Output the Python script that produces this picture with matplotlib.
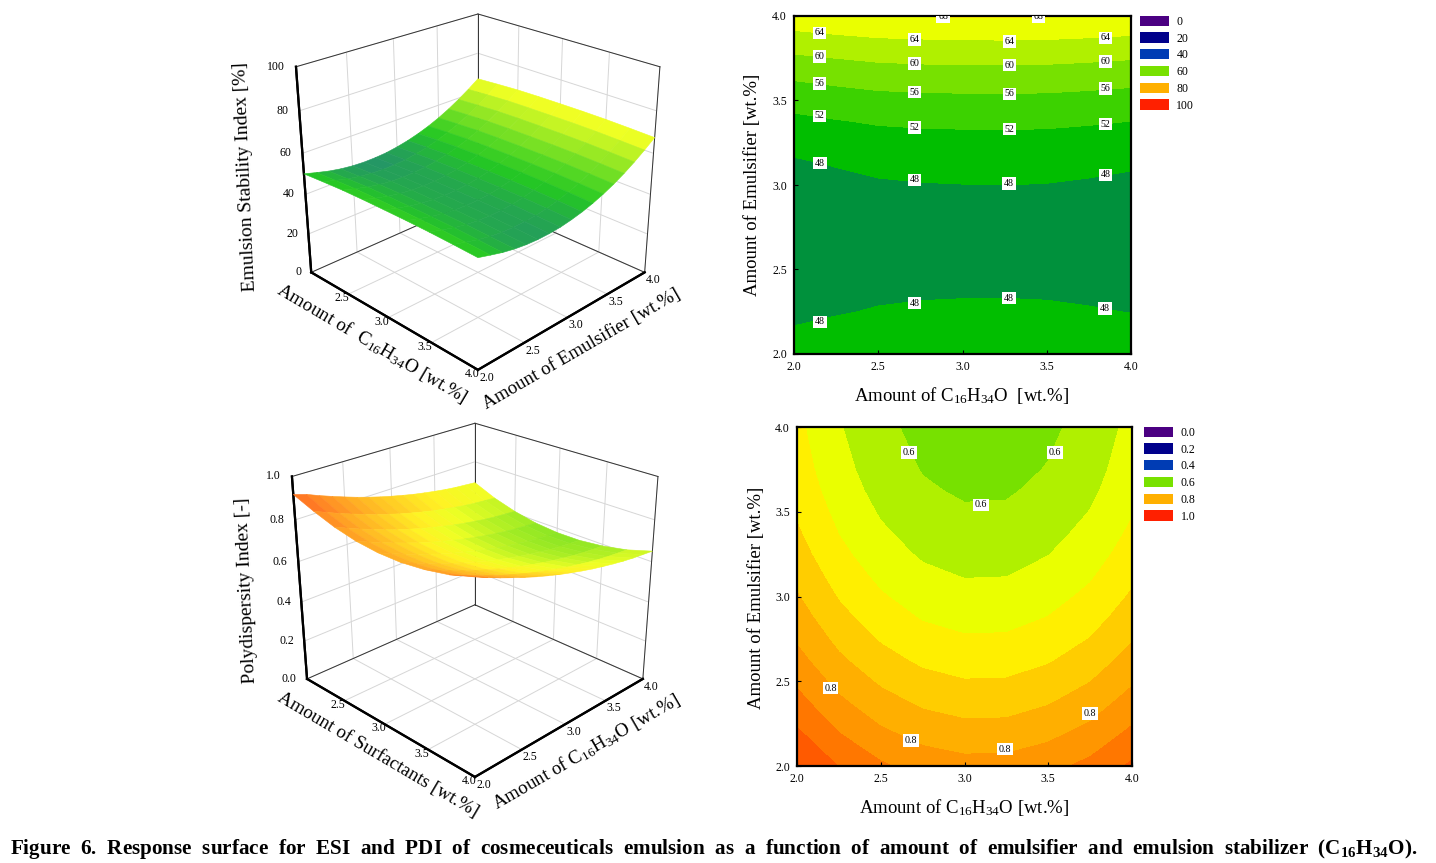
import numpy as np
import matplotlib
matplotlib.use("Agg")
import matplotlib.pyplot as plt
from matplotlib.colors import LinearSegmentedColormap, Normalize, to_rgb
from matplotlib.patches import Patch
from matplotlib.transforms import ScaledTranslation

plt.rcParams['font.family'] = ['Liberation Serif', 'DejaVu Serif']
plt.rcParams['mathtext.fontset'] = 'custom'
plt.rcParams['mathtext.rm'] = 'Liberation Serif'
plt.rcParams['mathtext.bf'] = 'Liberation Serif:bold'
plt.rcParams['mathtext.it'] = 'Liberation Serif:italic'

x_c16 = [2.0, 2.25, 2.5, 2.75, 3.0, 3.25, 3.5, 3.75, 4.0]
y_emul = [2.0, 2.125, 2.25, 2.375, 2.5, 2.625, 2.75, 2.875, 3.0,
          3.125, 3.25, 3.375, 3.5, 3.625, 3.75, 3.875, 4.0]

esi = [
    [50.1, 50.8, 51.4, 51.65, 51.75, 51.8, 51.7, 51.4, 51.0],
    [48.5, 49.2, 49.8, 50.0, 50.1, 50.2, 50.1, 49.8, 49.4],
    [47.0, 47.7, 48.3, 48.55, 48.65, 48.7, 48.6, 48.3, 47.9],
    [45.9, 46.6, 47.2, 47.5, 47.6, 47.6, 47.5, 47.2, 46.8],
    [45.2, 45.9, 46.5, 46.8, 46.9, 46.9, 46.8, 46.5, 46.1],
    [44.9, 45.6, 46.2, 46.5, 46.6, 46.6, 46.5, 46.2, 45.8],
    [45.0, 45.7, 46.3, 46.55, 46.65, 46.7, 46.6, 46.3, 45.9],
    [45.4, 46.1, 46.7, 47.0, 47.1, 47.1, 47.0, 46.7, 46.3],
    [46.3, 47.0, 47.6, 47.85, 47.95, 48.0, 47.9, 47.6, 47.2],
    [47.5, 48.2, 48.8, 49.0, 49.1, 49.2, 49.1, 48.8, 48.4],
    [49.1, 49.8, 50.4, 50.65, 50.75, 50.8, 50.7, 50.4, 50.0],
    [51.05, 51.75, 52.35, 52.6, 52.7, 52.75, 52.65, 52.35, 51.95],
    [53.4, 54.1, 54.7, 54.95, 55.05, 55.1, 55.0, 54.7, 54.3],
    [56.15, 56.85, 57.45, 57.7, 57.8, 57.85, 57.75, 57.45, 57.05],
    [59.3, 60.0, 60.6, 60.85, 60.95, 61.0, 60.9, 60.6, 60.2],
    [62.8, 63.5, 64.1, 64.3, 64.4, 64.5, 64.4, 64.1, 63.7],
    [66.6, 67.3, 67.9, 68.15, 68.25, 68.3, 68.2, 67.9, 67.5],
]
pdi = [
    [.918, .879, .846, .824, .814, .815, .828, .851, .887],
    [.900, .854, .821, .799, .789, .790, .803, .826, .862],
    [.876, .830, .797, .775, .765, .766, .779, .802, .838],
    [.854, .808, .775, .753, .743, .744, .757, .780, .816],
    [.833, .787, .754, .732, .722, .723, .736, .759, .795],
    [.813, .767, .734, .712, .702, .703, .716, .739, .775],
    [.795, .749, .716, .694, .684, .685, .698, .721, .757],
    [.778, .732, .699, .677, .667, .668, .681, .704, .740],
    [.763, .717, .684, .662, .652, .653, .666, .689, .725],
    [.749, .703, .670, .648, .638, .639, .652, .675, .711],
    [.736, .690, .657, .635, .625, .626, .639, .662, .698],
    [.725, .679, .646, .624, .614, .615, .628, .651, .687],
    [.715, .669, .636, .614, .604, .605, .618, .641, .677],
    [.706, .660, .627, .605, .595, .596, .609, .632, .668],
    [.699, .653, .620, .598, .588, .589, .602, .625, .661],
    [.694, .648, .615, .593, .583, .584, .597, .620, .656],
    [.689, .643, .610, .588, .578, .579, .592, .615, .651],
]
esi_levels = [44, 48, 52, 56, 60, 64, 68, 72]
pdi_levels = [.56, .60, .64, .68, .72, .76, .80, .84, .88, .92]

esi_label_x = [2.15, 2.15, 2.15, 2.15, 2.155, 2.155,
               2.715, 2.715, 2.715, 2.715, 2.715, 2.715,
               3.28, 3.28, 3.28, 3.28, 3.275, 3.275,
               3.85, 3.85, 3.85, 3.85, 3.85, 3.845, 2.885, 3.45]
esi_label_y = [3.90, 3.76, 3.60, 3.41, 3.13, 2.19,
               3.86, 3.72, 3.55, 3.34, 3.03, 2.30,
               3.85, 3.71, 3.54, 3.33, 3.01, 2.33,
               3.87, 3.73, 3.57, 3.36, 3.06, 2.27, 3.995, 3.995]
esi_label_t = ['64', '60', '56', '52', '48', '48',
               '64', '60', '56', '52', '48', '48',
               '64', '60', '56', '52', '48', '48',
               '64', '60', '56', '52', '48', '48', '68', '68']
pdi_label_x = [2.67, 3.54, 3.10, 2.20, 2.68, 3.24, 3.75]
pdi_label_y = [3.85, 3.85, 3.54, 2.46, 2.15, 2.10, 2.31]
pdi_label_t = ['0.6', '0.6', '0.6', '0.8', '0.8', '0.8', '0.8']

esi_legend = ['0', '20', '40', '60', '80', '100']
pdi_legend = ['0.0', '0.2', '0.4', '0.6', '0.8', '1.0']
legend_colors = ['#4b0082', '#00008b', '#003cb4', '#78e100', '#ffb000', '#ff2000']

cmap_stops = [(0, '#4b0082'), (.2, '#00008b'), (.4, '#003cb4'), (.46, '#00913c'),
              (.50, '#00be00'), (.54, '#3cd200'), (.58, '#78e100'), (.62, '#aff000'),
              (.66, '#ebff00'), (.70, '#fff000'), (.74, '#ffcd00'), (.78, '#ffb000'),
              (.82, '#ff9600'), (.86, '#ff7800'), (.90, '#ff5a00'), (1, '#ff2000')]
cmap = LinearSegmentedColormap.from_list('rsm', cmap_stops, N=512)
cmap_surface = LinearSegmentedColormap.from_list(
    'rsm3d', [(p, tuple(.86 * v + .14 for v in to_rgb(c))) for p, c in cmap_stops], N=512)

W, H = 1436, 863
fig = plt.figure(figsize=(W / 100, H / 100), dpi=100, facecolor='white')


def px_rect(l, t, r, b):
    return [l / W, 1 - b / H, (r - l) / W, (b - t) / H]


def contour_panel(rect, z, levels, vmax, lx, ly, lt, leg, xlabel, ylabel, xlab_pos, ylab_pos, leg_anchor):
    ax = fig.add_axes(px_rect(*rect))
    ax.contourf(x_c16, y_emul, np.array(z), levels=levels, cmap=cmap, norm=Normalize(0, vmax))
    ax.set_xlim(2, 4)
    ax.set_ylim(2, 4)
    ax.set_xticks([2, 2.5, 3, 3.5, 4])
    ax.set_yticks([2, 2.5, 3, 3.5, 4])
    ax.tick_params(direction='in', length=3, width=.8, labelsize=8.5, pad=5)
    for s in ax.spines.values():
        s.set_linewidth(1.6)
    for a, b, t in zip(lx, ly, lt):
        ax.text(a, b, t, fontsize=7.2, ha='center', va='center', clip_on=True,
                bbox=dict(fc='white', ec='none', pad=1.2))
    fig.text(xlab_pos[0] / W, 1 - xlab_pos[1] / H, xlabel, fontsize=13.5, ha='center', va='center')
    fig.text(ylab_pos[0] / W, 1 - ylab_pos[1] / H, ylabel, fontsize=13.5, ha='center', va='center', rotation=90)
    handles = [Patch(fc=c, ec='none') for c in legend_colors]
    ax.legend(handles, leg, loc='upper left', bbox_to_anchor=leg_anchor, frameon=False,
              fontsize=8.5, handlelength=2.5, handleheight=.95, labelspacing=.39,
              handletextpad=.6, borderaxespad=.75, borderpad=0)
    return ax


def surface_panel(rect, z, zmax, zticks, zfmt, xticks, xlab, ylab, zlab, xpos, ypos, zpos, zaspect):
    ax = fig.add_axes(px_rect(*rect), projection='3d')
    ax.patch.set_alpha(0)
    X, Y = np.meshgrid(x_c16, y_emul)
    surf = ax.plot_surface(X, Y, np.array(z), cmap=cmap_surface, norm=Normalize(0, zmax), rstride=1, cstride=1,
                           linewidth=.4, antialiased=True, shade=False)
    surf.set_edgecolor('face')
    ax.set_xlim(2, 4)
    ax.set_ylim(2, 4)
    ax.set_zlim(0, zmax)
    ax.view_init(elev=25, azim=-45)
    ax.set_proj_type('persp', focal_length=.46)
    ax.set_box_aspect((1, 1, zaspect), zoom=.916)
    ax.set_xticks(xticks)
    ax.set_yticks([2, 2.5, 3, 3.5, 4])
    ax.set_zticks(zticks)
    ax.set_xticklabels([f'{v:.1f}' for v in xticks], ha='right')
    ax.set_yticklabels(['2.0', '2.5', '3.0', '3.5', '4.0'], ha='left')
    zlabels = ax.set_zticklabels([zfmt.format(v) for v in zticks], ha='right', va='center')
    ax.tick_params(labelsize=8.5)
    ax.tick_params(axis='x', pad=-9)
    ax.tick_params(axis='y', pad=-7)
    ax.tick_params(axis='z', pad=-3)
    ax.zaxis.set_ticks_position('lower')
    shift = ScaledTranslation(4 / 100, 5.5 / 100, fig.dpi_scale_trans)
    for t in zlabels:
        t.set_transform(t.get_transform() + shift)
    for axis in (ax.xaxis, ax.yaxis, ax.zaxis):
        axis.set_pane_color((1, 1, 1, 0))
        axis.line.set_color('black')
        axis.line.set_linewidth(1.6)
        axis._axinfo['grid'].update(color='#d6d6d6', linewidth=.7)
        axis._axinfo['tick'].update(inward_factor=0, outward_factor=0)
    box = dict(color='#333333', lw=.7, zorder=0)
    ax.plot3D([2, 2], [4, 4], [0, zmax], **box)
    ax.plot3D([2, 2], [2, 4], [zmax, zmax], **box)
    ax.plot3D([2, 4], [4, 4], [zmax, zmax], **box)
    ax.plot3D([2, 2], [2, 4], [0, 0], **box)
    ax.plot3D([2, 4], [4, 4], [0, 0], **box)
    ax.plot3D([4, 4], [4, 4], [0, zmax], **box)
    ax.plot3D([2, 2], [2, 2], [0, zmax], color='black', lw=1.6)
    ax.plot3D([2, 4], [2, 2], [0, 0], color='black', lw=1.6)
    ax.plot3D([4, 4], [2, 4], [0, 0], color='black', lw=1.6)
    fig.text(xpos[0] / W, 1 - xpos[1] / H, xlab, fontsize=13.7, ha='center', va='center', rotation=-30.5, rotation_mode='anchor')
    fig.text(ypos[0] / W, 1 - ypos[1] / H, ylab, fontsize=13.7, ha='center', va='center', rotation=30, rotation_mode='anchor')
    fig.text(zpos[0] / W, 1 - zpos[1] / H, zlab, fontsize=14, ha='center', va='center', rotation=92.5, rotation_mode='anchor')
    return ax


surface_panel((172, -40, 772, 400), esi, 100, [0, 20, 40, 60, 80, 100], '{:.0f}', [2.5, 3, 3.5, 4],
              r'Amount of  C$_{16}$H$_{34}$O [wt.%]', 'Amount of Emulsifier [wt.%]', 'Emulsion Stability Index [%]',
              (372, 343), (582, 349), (246, 177), .92)
surface_panel((169, 368, 769, 808), pdi, 1.0, [0, .2, .4, .6, .8, 1.0], '{:.1f}', [2.5, 3, 3.5, 4],
              'Amount of Surfactants [wt.%]', r'Amount of C$_{16}$H$_{34}$O [wt.%]', 'Polydispersity Index [-]',
              (378, 755), (586, 752), (246, 590), .90)

contour_panel((794, 16, 1131, 354), esi, esi_levels, 100, esi_label_x, esi_label_y, esi_label_t, esi_legend,
              r'Amount of C$_{16}$H$_{34}$O  [wt.%]', 'Amount of Emulsifier [wt.%]', (962, 395), (753, 185), (1.0, 1.027))
contour_panel((797, 427, 1132, 766), pdi, pdi_levels, 1.0, pdi_label_x, pdi_label_y, pdi_label_t, pdi_legend,
              r'Amount of C$_{16}$H$_{34}$O [wt.%]', 'Amount of Emulsifier [wt.%]', (964, 807), (756, 598), (1.009, 1.027))

fig.text(10 / W, 1 - 849 / H,
         r'Figure  6.  Response  surface  for  ESI  and  PDI  of  cosmeceuticals  emulsion  as  a  function  of  amount  of  emulsifier  and  emulsion  stabilizer  (C$\mathbf{_{16}}$H$\mathbf{_{34}}$O).',
         fontsize=15.25, fontweight='bold', ha='left', va='center')

fig.savefig('out.png', dpi=100)
